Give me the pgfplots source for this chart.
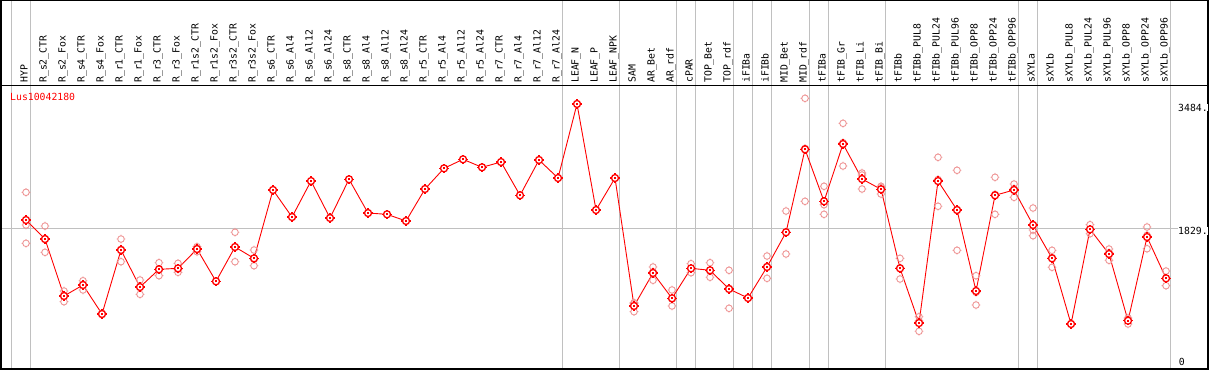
\documentclass[border=0pt]{standalone}
\usepackage{pgfplots}
\pgfplotsset{compat=1.18}
\usepackage{pgfplotstable}
\usepackage{fontspec}
\newfontfamily\pix{DejaVu Sans Mono}
\definecolor{rep}{RGB}{238,150,150}
\definecolor{grd}{RGB}{192,192,192}
\definecolor{mred}{RGB}{255,0,0}
\tikzset{label nodes/.style={font=\pix\fontsize{9.8}{10}\selectfont, inner sep=0pt, rotate=90, anchor=base west}}

\pgfdeclareplotmark{sun}{%
  \pgfpathcircle{\pgfpointorigin}{\pgfplotmarksize}%
  \pgfusepathqfillstroke
  \pgfpathmoveto{\pgfpoint{\pgfplotmarksize}{0pt}}\pgfpathlineto{\pgfpoint{1.3\pgfplotmarksize}{0pt}}%
  \pgfpathmoveto{\pgfpoint{-\pgfplotmarksize}{0pt}}\pgfpathlineto{\pgfpoint{-1.3\pgfplotmarksize}{0pt}}%
  \pgfpathmoveto{\pgfpoint{0pt}{\pgfplotmarksize}}\pgfpathlineto{\pgfpoint{0pt}{1.3\pgfplotmarksize}}%
  \pgfpathmoveto{\pgfpoint{0pt}{-\pgfplotmarksize}}\pgfpathlineto{\pgfpoint{0pt}{-1.3\pgfplotmarksize}}%
  \pgfpathmoveto{\pgfpoint{0pt}{-0.3\pgfplotmarksize}}\pgfpathlineto{\pgfpoint{0pt}{0.3\pgfplotmarksize}}%
  \pgfusepathqstroke
}
\pgfdeclareplotmark{sunopen}{%
  \pgfpathcircle{\pgfpointorigin}{\pgfplotmarksize}%
  \pgfpathmoveto{\pgfpoint{\pgfplotmarksize}{0pt}}\pgfpathlineto{\pgfpoint{1.3\pgfplotmarksize}{0pt}}%
  \pgfpathmoveto{\pgfpoint{-\pgfplotmarksize}{0pt}}\pgfpathlineto{\pgfpoint{-1.3\pgfplotmarksize}{0pt}}%
  \pgfpathmoveto{\pgfpoint{0pt}{\pgfplotmarksize}}\pgfpathlineto{\pgfpoint{0pt}{1.3\pgfplotmarksize}}%
  \pgfpathmoveto{\pgfpoint{0pt}{-\pgfplotmarksize}}\pgfpathlineto{\pgfpoint{0pt}{-1.3\pgfplotmarksize}}%
  \pgfusepathqstroke
}

\pgfplotstableread{
x y
1 1939
2 1686
3 928
4 1074
5 688
6 1540
7 1047
8 1283
9 1296
10 1553
11 1123
12 1580
13 1429
14 2339
15 1979
16 2458
17 1966
18 2481
19 2032
20 2015
21 1926
22 2352
23 2627
24 2747
25 2641
26 2711
27 2268
28 2738
29 2498
30 3484
31 2072
32 2498
33 795
34 1234
35 897
36 1296
37 1270
38 1021
39 901
40 1314
41 1776
42 2880
43 2188
44 2951
45 2485
46 2348
47 1296
48 568
49 2458
50 2072
51 994
52 2268
53 2339
54 1873
55 1429
56 555
57 1815
58 1487
59 599
60 1713
61 1163
}\means

\pgfplotstableread{
x y
1 2308
1 1873
1 1629
2 1859
2 1509
2 1690
3 994
3 852
3 938
4 1131
4 1008
4 1083
5 700
5 680
6 1686
6 1384
6 1550
7 1141
7 950
7 1050
8 1371
8 1198
8 1280
9 1363
9 1243
9 1283
10 1584
10 1517
10 1558
11 1123
12 1776
12 1384
12 1580
13 1540
13 1331
13 1417
33 839
33 719
33 827
34 1314
34 1137
34 1251
35 1008
35 795
35 888
36 1358
36 1238
36 1292
37 1371
37 1177
37 1262
38 1270
38 764
38 1029
39 901
40 1460
40 1163
40 1319
41 2059
41 1487
41 1782
42 3559
42 2188
42 2893
43 2388
43 2143
43 2015
44 3226
44 2658
44 2969
45 2565
45 2352
45 2538
46 2388
46 2285
46 2371
47 1429
47 1154
47 1305
48 652
48 458
48 594
49 2774
49 2122
49 2478
50 2601
50 1536
50 2079
51 1198
51 808
51 976
52 2508
52 2015
52 2281
53 2418
53 2241
53 2358
54 2099
54 1806
54 1730
55 1536
55 1310
55 1441
56 555
56 560
57 1877
57 1757
57 1811
58 1553
58 1403
58 1505
59 635
59 555
59 607
60 1846
60 1557
60 1736
61 1260
61 1065
61 1164
}\reps

\begin{document}
\begin{tikzpicture}
\path[use as bounding box] (-1pt,-1pt) rectangle (1208pt,369pt);
\begin{axis}[
  at={(0pt,0pt)}, anchor=south west,
  scale only axis, width=1207pt, height=368.5pt,
  xmin=-0.316, xmax=63.21, ymin=-43.9, ymax=4861,
  axis line style={line width=1.2pt, black},
  xtick={0.22,1.22,29.22,32.22,35.22,36.22,38.22,39.22,40.22,42.22,43.22,46.22,53.22,54.22,61.22},
  xticklabels={}, ytick={1829}, yticklabels={},
  xmajorgrids, ymajorgrids,
  major grid style={grd, line width=1pt},
  major tick length=0pt,
  clip=false,
]
\draw[line width=1pt] (axis cs:-0.316,3736) -- (axis cs:63.21,3736);

\addplot[only marks, color=rep, mark=sunopen, mark size=3.3pt, mark options={line width=0.9pt, draw=rep}] table {\reps};
\addplot[color=mred, line width=0.9pt, mark=sun, mark size=3.5pt, mark options={line width=1.3pt, fill=white, draw=mred}] table {\means};

\node[font=\pix\fontsize{9.8}{10}\selectfont, text=mred, inner sep=0pt, anchor=base west] at (axis cs:0.16,3534) {Lus10042180};
\node[font=\pix\fontsize{9.8}{10}\selectfont, inner sep=0pt, anchor=base west, fill=white] at (axis cs:61.63,3386) {3484.};
\node[font=\pix\fontsize{9.8}{10}\selectfont, inner sep=0.6pt, anchor=base west, fill=white] at (axis cs:61.6,1746) {1829.};
\node[font=\pix\fontsize{9.8}{10}\selectfont, inner sep=0pt, anchor=base west] at (axis cs:61.66,5) {0};

\node[label nodes] at (axis cs:1.08,3763) {HYP};
\node[label nodes] at (axis cs:2.08,3763) {R\_s2\_CTR};
\node[label nodes] at (axis cs:3.08,3763) {R\_s2\_Fox};
\node[label nodes] at (axis cs:4.08,3763) {R\_s4\_CTR};
\node[label nodes] at (axis cs:5.08,3763) {R\_s4\_Fox};
\node[label nodes] at (axis cs:6.08,3763) {R\_r1\_CTR};
\node[label nodes] at (axis cs:7.08,3763) {R\_r1\_Fox};
\node[label nodes] at (axis cs:8.08,3763) {R\_r3\_CTR};
\node[label nodes] at (axis cs:9.08,3763) {R\_r3\_Fox};
\node[label nodes] at (axis cs:10.08,3763) {R\_r1s2\_CTR};
\node[label nodes] at (axis cs:11.08,3763) {R\_r1s2\_Fox};
\node[label nodes] at (axis cs:12.08,3763) {R\_r3s2\_CTR};
\node[label nodes] at (axis cs:13.08,3763) {R\_r3s2\_Fox};
\node[label nodes] at (axis cs:14.08,3763) {R\_s6\_CTR};
\node[label nodes] at (axis cs:15.08,3763) {R\_s6\_Al4};
\node[label nodes] at (axis cs:16.08,3763) {R\_s6\_Al12};
\node[label nodes] at (axis cs:17.08,3763) {R\_s6\_Al24};
\node[label nodes] at (axis cs:18.08,3763) {R\_s8\_CTR};
\node[label nodes] at (axis cs:19.08,3763) {R\_s8\_Al4};
\node[label nodes] at (axis cs:20.08,3763) {R\_s8\_Al12};
\node[label nodes] at (axis cs:21.08,3763) {R\_s8\_Al24};
\node[label nodes] at (axis cs:22.08,3763) {R\_r5\_CTR};
\node[label nodes] at (axis cs:23.08,3763) {R\_r5\_Al4};
\node[label nodes] at (axis cs:24.08,3763) {R\_r5\_Al12};
\node[label nodes] at (axis cs:25.08,3763) {R\_r5\_Al24};
\node[label nodes] at (axis cs:26.08,3763) {R\_r7\_CTR};
\node[label nodes] at (axis cs:27.08,3763) {R\_r7\_Al4};
\node[label nodes] at (axis cs:28.08,3763) {R\_r7\_Al12};
\node[label nodes] at (axis cs:29.08,3763) {R\_r7\_Al24};
\node[label nodes] at (axis cs:30.08,3763) {LEAF\_N};
\node[label nodes] at (axis cs:31.08,3763) {LEAF\_P};
\node[label nodes] at (axis cs:32.08,3763) {LEAF\_NPK};
\node[label nodes] at (axis cs:33.08,3763) {SAM};
\node[label nodes] at (axis cs:34.08,3763) {AR\_Bet};
\node[label nodes] at (axis cs:35.08,3763) {AR\_rdf};
\node[label nodes] at (axis cs:36.08,3763) {cPAR};
\node[label nodes] at (axis cs:37.08,3763) {TOP\_Bet};
\node[label nodes] at (axis cs:38.08,3763) {TOP\_rdf};
\node[label nodes] at (axis cs:39.08,3763) {iFIBa};
\node[label nodes] at (axis cs:40.08,3763) {iFIBb};
\node[label nodes] at (axis cs:41.08,3763) {MID\_Bet};
\node[label nodes] at (axis cs:42.08,3763) {MID\_rdf};
\node[label nodes] at (axis cs:43.08,3763) {tFIBa};
\node[label nodes] at (axis cs:44.08,3763) {tFIB\_Gr};
\node[label nodes] at (axis cs:45.08,3763) {tFIB\_Li};
\node[label nodes] at (axis cs:46.08,3763) {tFIB\_Bi};
\node[label nodes] at (axis cs:47.08,3763) {tFIBb};
\node[label nodes] at (axis cs:48.08,3763) {tFIBb\_PUL8};
\node[label nodes] at (axis cs:49.08,3763) {tFIBb\_PUL24};
\node[label nodes] at (axis cs:50.08,3763) {tFIBb\_PUL96};
\node[label nodes] at (axis cs:51.08,3763) {tFIBb\_OPP8};
\node[label nodes] at (axis cs:52.08,3763) {tFIBb\_OPP24};
\node[label nodes] at (axis cs:53.08,3763) {tFIBb\_OPP96};
\node[label nodes] at (axis cs:54.08,3763) {sXYLa};
\node[label nodes] at (axis cs:55.08,3763) {sXYLb};
\node[label nodes] at (axis cs:56.08,3763) {sXYLb\_PUL8};
\node[label nodes] at (axis cs:57.08,3763) {sXYLb\_PUL24};
\node[label nodes] at (axis cs:58.08,3763) {sXYLb\_PUL96};
\node[label nodes] at (axis cs:59.08,3763) {sXYLb\_OPP8};
\node[label nodes] at (axis cs:60.08,3763) {sXYLb\_OPP24};
\node[label nodes] at (axis cs:61.08,3763) {sXYLb\_OPP96};
\end{axis}
\end{tikzpicture}
\end{document}
